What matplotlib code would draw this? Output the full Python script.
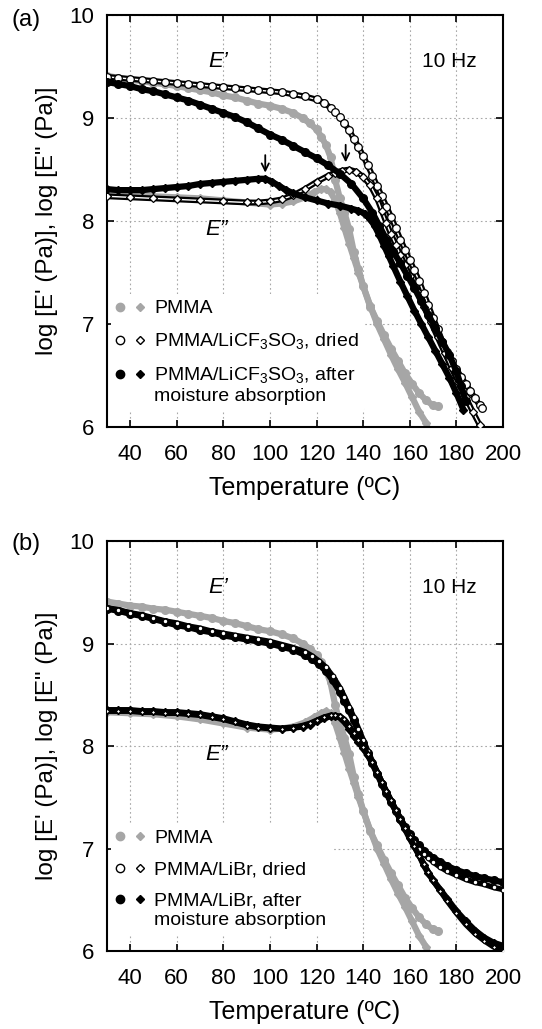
import matplotlib
matplotlib.use('Agg')
import matplotlib.pyplot as plt
from matplotlib.legend_handler import HandlerTuple
from matplotlib.lines import Line2D

plt.rcParams['font.family'] = ['Liberation Sans', 'DejaVu Sans']
plt.rcParams['mathtext.fontset'] = 'custom'
plt.rcParams['mathtext.rm'] = 'Liberation Sans'
plt.rcParams['mathtext.it'] = 'Liberation Sans:italic'

GREY = '#a6a6a6'

# ---------------- PMMA ----------------
pmma_T1 = [30, 35, 40, 45, 50, 55, 60, 65, 70, 75, 80, 85, 90, 95, 100, 105, 110, 114, 117,
           120, 122, 124, 126, 128, 130, 132, 134, 136, 138, 140, 143, 146, 149, 152, 155,
           158, 161, 164, 167, 170, 172]
pmma_E1 = [9.41, 9.39, 9.37, 9.36, 9.34, 9.33, 9.31, 9.29, 9.27, 9.25, 9.22, 9.20, 9.17, 9.14,
           9.12, 9.09, 9.05, 9.00, 8.95, 8.89, 8.82, 8.74, 8.62, 8.40, 8.22, 8.08, 7.92, 7.70,
           7.53, 7.37, 7.17, 7.03, 6.89, 6.76, 6.64, 6.52, 6.42, 6.33, 6.26, 6.21, 6.20]
pmma_T2 = [30, 40, 50, 60, 70, 80, 90, 100, 105, 110, 115, 119, 122, 124, 126, 128, 130, 132,
           134, 136, 138, 140, 143, 146, 149, 152, 155, 158, 161, 164, 167, 168]
pmma_a_E2 = [8.26, 8.25, 8.24, 8.23, 8.22, 8.20, 8.18, 8.16, 8.17, 8.19, 8.23, 8.28, 8.31, 8.31,
             8.28, 8.20, 8.08, 7.93, 7.78, 7.64, 7.50, 7.37, 7.18, 7.00, 6.85, 6.70, 6.56, 6.43,
             6.29, 6.15, 6.04, 5.97]
pmma_b_E2 = [8.33, 8.32, 8.31, 8.29, 8.26, 8.22, 8.18, 8.16, 8.17, 8.19, 8.23, 8.28, 8.32, 8.34,
             8.32, 8.22, 8.08, 7.93, 7.78, 7.64, 7.50, 7.37, 7.18, 7.00, 6.85, 6.70, 6.56, 6.43,
             6.29, 6.15, 6.04, 5.97]

# ---------------- (a) PMMA/LiCF3SO3, dried ----------------
a_dry_T1 = [30, 35, 40, 45, 50, 55, 60, 65, 70, 75, 80, 85, 90, 95, 100, 105, 110, 115, 120,
            123, 126, 128, 130, 132, 134, 136, 138, 140, 142, 144, 146, 148, 150, 152, 154,
            156, 158, 160, 162, 164, 166, 168, 170, 172, 174, 176, 178, 180, 182, 184, 186,
            188, 190, 191]
a_dry_E1 = [9.40, 9.39, 9.38, 9.37, 9.36, 9.35, 9.34, 9.33, 9.32, 9.31, 9.30, 9.29, 9.28, 9.27,
            9.26, 9.25, 9.23, 9.21, 9.18, 9.15, 9.10, 9.06, 9.01, 8.95, 8.88, 8.80, 8.72, 8.63,
            8.54, 8.44, 8.34, 8.24, 8.14, 8.04, 7.93, 7.82, 7.72, 7.62, 7.52, 7.42, 7.30, 7.18,
            7.06, 6.95, 6.83, 6.73, 6.64, 6.56, 6.49, 6.42, 6.35, 6.28, 6.21, 6.18]
a_dry_T2 = [30, 40, 50, 60, 70, 80, 90, 95, 100, 105, 110, 115, 120, 125, 128, 131, 134, 137,
            140, 143, 146, 148, 150, 152, 154, 156, 158, 160, 163, 166, 169, 172, 175, 178,
            181, 184, 187, 190]
a_dry_E2 = [8.24, 8.23, 8.22, 8.21, 8.20, 8.19, 8.18, 8.18, 8.19, 8.21, 8.25, 8.31, 8.38, 8.44,
            8.47, 8.49, 8.50, 8.48, 8.43, 8.35, 8.22, 8.10, 7.98, 7.87, 7.77, 7.67, 7.57, 7.47,
            7.32, 7.17, 7.02, 6.87, 6.72, 6.57, 6.43, 6.29, 6.15, 6.02]

# ---------------- (a) PMMA/LiCF3SO3, after moisture absorption ----------------
a_wet_T1 = [30, 35, 40, 45, 50, 55, 60, 65, 70, 75, 80, 85, 90, 95, 100, 105, 110, 115, 120,
            125, 130, 135, 140, 144, 147, 150, 153, 156, 159, 162, 165, 168, 171, 174, 177,
            180, 182, 184]
a_wet_E1 = [9.35, 9.33, 9.31, 9.28, 9.26, 9.23, 9.20, 9.17, 9.13, 9.09, 9.05, 9.01, 8.96, 8.90,
            8.84, 8.79, 8.73, 8.67, 8.61, 8.54, 8.46, 8.36, 8.22, 8.08, 7.95, 7.82, 7.70, 7.59,
            7.47, 7.35, 7.22, 7.09, 6.96, 6.83, 6.70, 6.54, 6.40, 6.25]
a_wet_T2 = [30, 35, 40, 45, 50, 55, 60, 65, 70, 75, 80, 85, 90, 95, 98, 101, 104, 107, 110,
            115, 120, 125, 130, 135, 138, 141, 143, 145, 147, 149, 151, 153, 156, 159, 162,
            165, 168, 171, 174, 177, 180, 183]
a_wet_E2 = [8.31, 8.30, 8.30, 8.30, 8.31, 8.32, 8.33, 8.34, 8.36, 8.37, 8.38, 8.39, 8.40, 8.41,
            8.41, 8.38, 8.34, 8.30, 8.27, 8.23, 8.20, 8.17, 8.15, 8.12, 8.10, 8.07, 8.02, 7.95,
            7.86, 7.76, 7.66, 7.56, 7.41, 7.27, 7.13, 7.00, 6.87, 6.74, 6.61, 6.48, 6.33, 6.17]

# ---------------- (b) PMMA/LiBr ----------------
b_T = [30, 35, 40, 45, 50, 55, 60, 65, 70, 75, 80, 85, 90, 95, 100, 105, 110, 115, 118, 121,
       124, 127, 130, 132, 134, 136, 138, 140, 142, 144, 146, 148, 150, 152, 154, 156, 158,
       160, 162, 164, 166, 168, 170, 173, 176, 180, 184, 188, 192, 196, 200]
b_wet_E1 = [9.34, 9.32, 9.29, 9.27, 9.24, 9.21, 9.18, 9.16, 9.13, 9.11, 9.08, 9.06, 9.04, 9.02,
            9.00, 8.97, 8.94, 8.89, 8.85, 8.80, 8.73, 8.64, 8.53, 8.44, 8.35, 8.25, 8.14, 8.03,
            7.93, 7.83, 7.73, 7.63, 7.54, 7.45, 7.37, 7.29, 7.21, 7.14, 7.08, 7.03, 6.98, 6.94,
            6.91, 6.87, 6.83, 6.79, 6.76, 6.73, 6.71, 6.69, 6.67]
b_dry_E1 = [9.35, 9.33, 9.30, 9.28, 9.25, 9.22, 9.20, 9.17, 9.15, 9.12, 9.10, 9.08, 9.06, 9.04,
            9.02, 8.99, 8.96, 8.92, 8.88, 8.83, 8.77, 8.68, 8.57, 8.48, 8.38, 8.28, 8.17, 8.06,
            7.95, 7.85, 7.75, 7.65, 7.55, 7.46, 7.37, 7.29, 7.21, 7.13, 7.06, 7.00, 6.95, 6.91,
            6.87, 6.82, 6.78, 6.74, 6.70, 6.67, 6.65, 6.62, 6.60]
b_T2 = [30, 35, 40, 45, 50, 55, 60, 65, 70, 75, 80, 85, 90, 95, 100, 105, 110, 114, 117, 120,
        123, 126, 128, 130, 132, 134, 136, 138, 140, 142, 144, 146, 148, 150, 152, 154, 156,
        158, 160, 162, 164, 166, 168, 170, 173, 176, 180, 184, 188, 192, 196, 200]
b_wet_E2 = [8.35, 8.35, 8.35, 8.34, 8.34, 8.33, 8.33, 8.32, 8.31, 8.29, 8.27, 8.24, 8.21, 8.19,
            8.18, 8.17, 8.18, 8.19, 8.21, 8.24, 8.27, 8.29, 8.29, 8.28, 8.24, 8.17, 8.10, 8.04,
            7.98, 7.91, 7.83, 7.74, 7.64, 7.55, 7.46, 7.37, 7.28, 7.19, 7.10, 7.02, 6.94, 6.84,
            6.76, 6.69, 6.60, 6.51, 6.39, 6.29, 6.20, 6.13, 6.08, 6.05]
b_dry_E2 = [8.34, 8.34, 8.34, 8.33, 8.33, 8.32, 8.32, 8.31, 8.30, 8.28, 8.26, 8.23, 8.20, 8.18,
            8.17, 8.17, 8.18, 8.20, 8.22, 8.25, 8.28, 8.30, 8.30, 8.29, 8.26, 8.20, 8.13, 8.06,
            7.99, 7.92, 7.84, 7.75, 7.65, 7.56, 7.47, 7.38, 7.29, 7.20, 7.11, 7.02, 6.93, 6.85,
            6.77, 6.69, 6.59, 6.49, 6.37, 6.26, 6.17, 6.10, 6.04, 6.00]

x_ticks = [40, 60, 80, 100, 120, 140, 160, 180, 200]
y_ticks = [6, 7, 8, 9, 10]


def draw(ax, T, v, kind, marker, z):
    ms = 5.5 if marker == 'o' else 4.5
    if kind == 'grey':
        ax.plot(T, v, '-', color=GREY, lw=4.5, solid_capstyle='round', zorder=z)
        ax.plot(T, v, ls='none', marker=marker, ms=ms, mfc=GREY, mec=GREY, zorder=z)
    elif kind == 'black':
        ax.plot(T, v, '-', color='k', lw=4.5, solid_capstyle='round', zorder=z)
        ax.plot(T, v, ls='none', marker=marker, ms=ms, mfc='k', mec='k', zorder=z)
    elif kind == 'speck':
        ax.plot(T, v, '-', color='k', lw=4.0, solid_capstyle='round', zorder=z)
        ax.plot(T, v, ls='none', marker=marker, ms=ms - 2.2, mfc='white', mec='k',
                mew=0.8, zorder=z)
    else:
        ax.plot(T, v, '-', color='k', lw=4.2, solid_capstyle='round', zorder=z)
        ax.plot(T, v, '-', color='white', lw=1.0, zorder=z)
        ax.plot(T, v, ls='none', marker=marker, ms=ms, mfc='white', mec='k', mew=0.9, zorder=z)


def style(ax):
    ax.set_xlim(30, 200)
    ax.set_ylim(6, 10)
    ax.set_xticks(x_ticks)
    ax.set_yticks(y_ticks)
    ax.tick_params(direction='in', length=5, width=1.2, labelsize=16, top=True, right=True)
    ax.tick_params(axis='x', pad=12)
    ax.tick_params(axis='y', pad=9)
    for s in ax.spines.values():
        s.set_linewidth(1.5)
    ax.grid(True, linestyle=(0, (1.5, 2.5)), color='#a8a8a8', lw=0.8, zorder=0)
    ax.set_axisbelow(True)
    ax.set_xlabel('Temperature (ºC)', fontsize=18, labelpad=8)
    ax.set_ylabel('log [E\' (Pa)], log [E" (Pa)]', fontsize=17.5, labelpad=8)
    ax.text(78, 9.55, 'E’', fontsize=16, style='italic', ha='center', va='center')
    ax.text(77, 7.92, 'E”', fontsize=16, style='italic', ha='center', va='center')
    ax.text(177, 9.55, '10 Hz', fontsize=15, ha='center', va='center')


class RaisedTuple(HandlerTuple):
    def __init__(self, raise_pt=0.0, **kw):
        super().__init__(**kw)
        self.raise_pt = raise_pt

    def create_artists(self, legend, orig_handle, xdescent, ydescent, width, height,
                       fontsize, trans):
        return super().create_artists(legend, orig_handle, xdescent,
                                      ydescent - 2 * self.raise_pt, width, height,
                                      fontsize, trans)


def legend(ax, labels):
    h_grey = (Line2D([], [], ls='none', marker='o', ms=6, mfc=GREY, mec=GREY),
              Line2D([], [], ls='none', marker='D', ms=4.5, mfc=GREY, mec=GREY))
    h_open = (Line2D([], [], ls='none', marker='o', ms=6, mfc='white', mec='k', mew=1),
              Line2D([], [], ls='none', marker='D', ms=4.5, mfc='white', mec='k', mew=1))
    h_blk = [Line2D([], [], ls='none', marker='o', ms=6, mfc='k', mec='k'),
             Line2D([], [], ls='none', marker='D', ms=4.5, mfc='k', mec='k')]
    leg = ax.legend([h_grey, h_open, h_blk], labels,
                    handler_map={tuple: HandlerTuple(ndivide=None, pad=0.6),
                                 list: RaisedTuple(raise_pt=8, ndivide=None, pad=0.6)},
                    loc='lower left', bbox_to_anchor=(0.0, 0.03), fontsize=14,
                    frameon=True, framealpha=1, facecolor='white', edgecolor='none',
                    handlelength=1.4, handletextpad=0.55, labelspacing=0.72,
                    borderpad=0.3, borderaxespad=0.2)
    leg.set_zorder(1.5)


fig = plt.figure(figsize=(5.42, 10.29), dpi=100)
axA = fig.add_axes([0.197, 0.585, 0.731, 0.4004])
axB = fig.add_axes([0.197, 0.0758, 0.731, 0.3984])

# panel (a)
draw(axA, pmma_T1, pmma_E1, 'grey', 'o', 2)
draw(axA, pmma_T2, pmma_a_E2, 'grey', 'D', 2)
draw(axA, a_dry_T1, a_dry_E1, 'open', 'o', 3)
draw(axA, a_dry_T2, a_dry_E2, 'open', 'D', 3)
draw(axA, a_wet_T1, a_wet_E1, 'black', 'o', 4)
draw(axA, a_wet_T2, a_wet_E2, 'black', 'D', 4)
style(axA)
legend(axA, ['PMMA', 'PMMA/LiCF$_3$SO$_3$, dried',
             'PMMA/LiCF$_3$SO$_3$, after\nmoisture absorption'])
for xa, y0, y1 in [(98, 8.64, 8.47), (132.5, 8.74, 8.57)]:
    axA.annotate('', xy=(xa, y1), xytext=(xa, y0),
                 arrowprops=dict(arrowstyle='->', lw=1.3, color='k', mutation_scale=13,
                                 shrinkA=0, shrinkB=0), zorder=6)
fig.text(0.048, 0.981, '(a)', fontsize=17, ha='center', va='center')

# panel (b)
draw(axB, pmma_T1, pmma_E1, 'grey', 'o', 2)
draw(axB, pmma_T2, pmma_b_E2, 'grey', 'D', 2)
draw(axB, b_T, b_wet_E1, 'black', 'o', 3)
draw(axB, b_T2, b_wet_E2, 'black', 'D', 3)
draw(axB, b_T, b_dry_E1, 'speck', 'o', 4)
draw(axB, b_T2, b_dry_E2, 'speck', 'D', 4)
style(axB)
legend(axB, ['PMMA', 'PMMA/LiBr, dried', 'PMMA/LiBr, after\nmoisture absorption'])
fig.text(0.048, 0.471, '(b)', fontsize=17, ha='center', va='center')

fig.savefig('out.png', dpi=100)
